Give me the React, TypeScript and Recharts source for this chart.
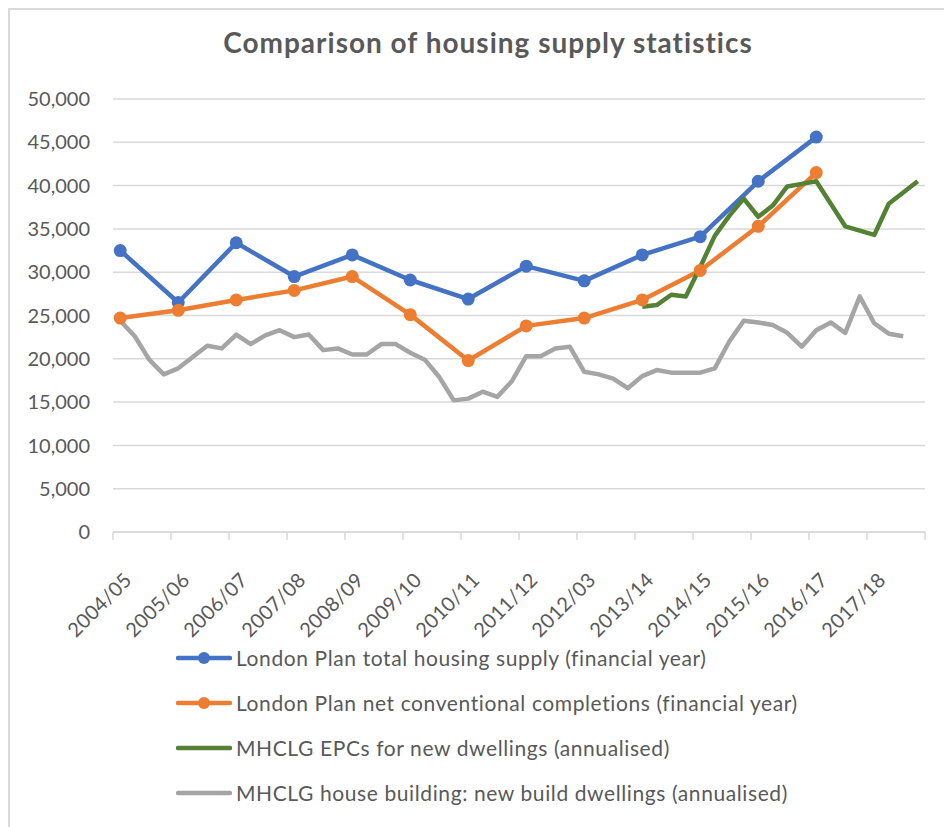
import React from "react";
import { LineChart, Line, XAxis, YAxis, CartesianGrid, Legend } from "recharts";

// financial years on the axis (the "2012/03" label is as in the source chart)
const yearLabels = [
  "2004/05", "2005/06", "2006/07", "2007/08", "2008/09", "2009/10", "2010/11",
  "2011/12", "2012/03", "2013/14", "2014/15", "2015/16", "2016/17", "2017/18",
];

// annual series, one value per financial year from 2004/05
const totalSupply = [32500, 26500, 33400, 29500, 32000, 29100, 26900, 30700, 29000, 32000, 34100, 40500, 45600];
const netConventional = [24700, 25600, 26800, 27900, 29500, 25100, 19800, 23800, 24700, 26800, 30200, 35300, 41500];

// quarterly series (annualised); EPCs start in Q1 2013/14
const epcStartQuarter = 36;
const epcNewDwellings = [
  26000, 26200, 27400, 27200, 30600, 34200, 36500, 38500, 36400, 37700,
  39900, 40200, 40500, 37900, 35300, 34800, 34300, 37900, 39200, 40500,
];
const houseBuilding = [
  24400, 22600, 19900, 18200, 18900, 20200, 21500, 21200, 22800, 21700,
  22700, 23300, 22500, 22800, 21000, 21200, 20500, 20500, 21700, 21700,
  20700, 19900, 17900, 15200, 15400, 16200, 15600, 17400, 20300, 20300,
  21200, 21400, 18500, 18200, 17700, 16600, 18000, 18700, 18400, 18400,
  18400, 18900, 22000, 24400, 24200, 23900, 23000, 21400, 23300, 24200,
  23000, 27200, 24100, 22900, 22600,
];

const yTicks = [0, 5000, 10000, 15000, 20000, 25000, 30000, 35000, 40000, 45000, 50000];

const QPY = 4; // quarters per year
const nQuarters = yearLabels.length * QPY;

const annual = (vals: number[]) => vals.map((v, i) => ({ q: i * QPY, v }));
const quarterly = (vals: number[], start = 0) => vals.map((v, i) => ({ q: start + i, v }));

const series = [
  { name: "London Plan total housing supply (financial year)", color: "#4472C4", data: annual(totalSupply), marker: true },
  { name: "London Plan net conventional completions (financial year)", color: "#ED7D31", data: annual(netConventional), marker: true },
  { name: "MHCLG EPCs for new dwellings (annualised)", color: "#548235", data: quarterly(epcNewDwellings, epcStartQuarter), marker: false },
  { name: "MHCLG house building: new build dwellings (annualised)", color: "#A5A5A5", data: quarterly(houseBuilding), marker: false },
];

const boundaryTicks = yearLabels.map((_, i) => i * QPY - 0.5).concat([nQuarters - 0.5]);
const labelTicks = yearLabels.map((_, i) => i * QPY);

const FONT = "Lato, 'Open Sans', sans-serif";
const TEXT = "#595959";
const GRID = "#d9d9d9";

// rotated year label, its end sits just right of the first quarter of the year
const YearTick = (props: any) => {
  const { x, y, payload } = props;
  const label = yearLabels[Math.round(payload.value / QPY)];
  return (
    <g transform={`translate(${x},${y})`}>
      <text x={-19.5} y={37.5} transform="rotate(-45)" textAnchor="end" fill={TEXT} fontSize={20} letterSpacing={0.3} fontFamily={FONT}>
        {label}
      </text>
    </g>
  );
};

const LegendBox = () => (
  <div style={{ fontFamily: FONT, fontSize: 21, letterSpacing: 0.6, color: TEXT }}>
    {series.map((s) => (
      <div key={s.name} style={{ height: 45, display: "flex", alignItems: "center", whiteSpace: "nowrap" }}>
        <svg width={56} height={16} style={{ marginRight: 4 }}>
          <line x1={2} y1={8} x2={54} y2={8} stroke={s.color} strokeWidth={4.5} strokeLinecap="round" />
          {s.marker && <circle cx={28} cy={8} r={6} fill={s.color} />}
        </svg>
        <span>{s.name}</span>
      </div>
    ))}
  </div>
);

export default function App() {
  return (
    <div style={{ position: "relative", width: 944, height: 819 }}>
      <div style={{ position: "absolute", left: 0, top: 0, width: 944, height: 819, borderLeft: `2px solid ${GRID}`, borderTop: `2px solid ${GRID}`, boxSizing: "border-box" }} />
      <svg width={944} height={60} style={{ position: "absolute", left: 0, top: 0 }}>
        <text x={480} y={45} textAnchor="middle" fontFamily={FONT} fontWeight={700} fontSize={28} letterSpacing={1} fill={TEXT}>
          Comparison of housing supply statistics
        </text>
      </svg>
      <LineChart width={944} height={819} margin={{ top: 91, right: 27, bottom: 200, left: 10 }}>
        <CartesianGrid vertical={false} stroke={GRID} strokeWidth={1.5} xAxisId="labels" />
        <XAxis
          xAxisId="bounds"
          type="number"
          dataKey="q"
          domain={[-0.5, nQuarters - 0.5]}
          allowDataOverflow
          ticks={boundaryTicks}
          interval={0}
          height={1}
          tick={() => <g />}
          tickSize={8}
          axisLine={{ stroke: GRID, strokeWidth: 1.5 }}
          tickLine={{ stroke: GRID, strokeWidth: 1.5 }}
        />
        <XAxis
          xAxisId="labels"
          type="number"
          dataKey="q"
          domain={[-0.5, nQuarters - 0.5]}
          allowDataOverflow
          ticks={labelTicks}
          interval={0}
          height={94}
          axisLine={false}
          tickLine={false}
          tickSize={6}
          tickMargin={2}
          tick={<YearTick />}
        />
        <YAxis
          domain={[0, 50000]}
          ticks={yTicks}
          interval={0}
          width={95}
          axisLine={false}
          tickLine={false}
          tickMargin={17}
          tickFormatter={(v: number) => v.toLocaleString("en-US")}
          tick={{ fill: TEXT, fontSize: 20, fontFamily: FONT }}
        />
        {series.map((s) => (
          <Line
            key={s.name}
            xAxisId="labels"
            data={s.data}
            dataKey="v"
            name={s.name}
            type="linear"
            stroke={s.color}
            strokeWidth={4.5}
            strokeLinejoin="round"
            dot={s.marker ? { r: 6.5, fill: s.color, stroke: "none" } : false}
            activeDot={false}
            isAnimationActive={false}
          />
        ))}
        <Legend
          layout="vertical"
          align="center"
          verticalAlign="middle"
          content={<LegendBox />}
          wrapperStyle={{ top: 627, left: 168, width: 760 }}
        />
      </LineChart>
    </div>
  );
}
